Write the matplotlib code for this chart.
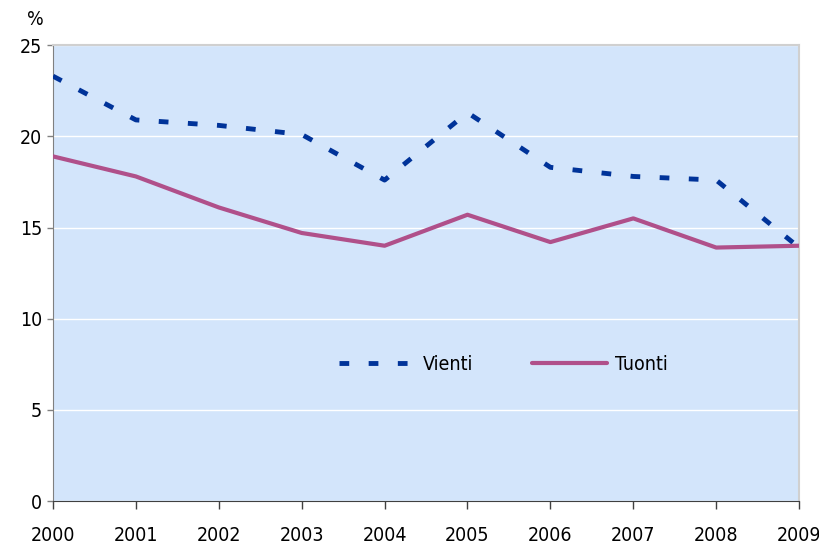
import numpy as np
import matplotlib
matplotlib.use("Agg")
import matplotlib.pyplot as plt

plt.rcParams['font.family'] = ['DejaVu Sans']
plt.rcParams['font.stretch'] = 'condensed'

years = ['2000', '2001', '2002', '2003', '2004', '2005', '2006', '2007', '2008', '2009']
vienti = [23.3, 20.9, 20.6, 20.1, 17.6, 21.3, 18.3, 17.8, 17.6, 13.9]
tuonti = [18.9, 17.8, 16.1, 14.7, 14.0, 15.7, 14.2, 15.5, 13.9, 14.0]

fig = plt.figure(figsize=(8.19, 5.44), dpi=100)
ax = fig.add_axes([0.0647, 0.079, 0.911, 0.838])
ax.set_facecolor('#d3e5fb')

x = np.arange(len(years))
ax.plot(x, vienti, color='#003399', lw=3.5, dashes=(2.0, 4.0), dash_capstyle='butt',
        label='Vienti', zorder=3)
ax.plot(x, tuonti, color='#b0508a', lw=3, solid_capstyle='round', label='Tuonti', zorder=3)

ax.set_xlim(0, 9)
ax.set_ylim(0, 25)
ax.set_xticks(x)
ax.set_xticklabels(years)
ax.set_yticks([0, 5, 10, 15, 20, 25])
ax.yaxis.grid(True, color='white', lw=1)
ax.set_axisbelow(True)

for s in ['top', 'right']:
    ax.spines[s].set_color('#d0d0d0')
    ax.spines[s].set_linewidth(1.5)
ax.spines['left'].set_color('#808080')
ax.spines['bottom'].set_color('#404040')
ax.tick_params(axis='x', length=6, width=1, color='#404040', pad=12, labelsize=14)
ax.tick_params(axis='y', length=4, width=1, color='#808080', pad=4, labelsize=14)

fig.text(0.043, 0.965, '%', fontsize=14, ha='center', va='center')

ax.legend(loc='center', bbox_to_anchor=(0.604, 0.30), ncol=2, frameon=False,
          fontsize=14, handlelength=3.9, columnspacing=3.0, handletextpad=0.4)

fig.savefig('out.png', dpi=100)
